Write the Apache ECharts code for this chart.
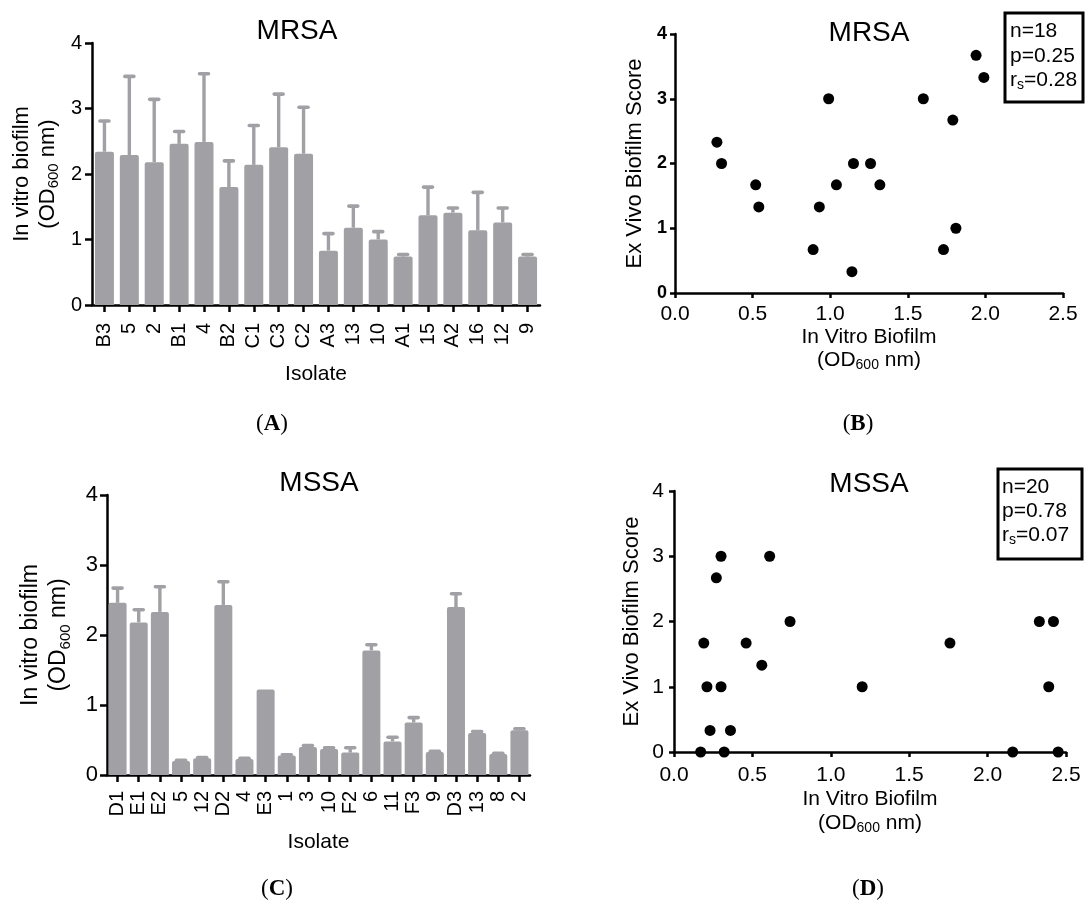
<!DOCTYPE html>
<html><head><meta charset="utf-8">
<script src="https://cdn.jsdelivr.net/npm/echarts@6/dist/echarts.min.js"></script>
<style>html,body{margin:0;padding:0;background:#fff}#c{width:1085px;height:909px}</style>
</head><body><div id="c"></div>
<script>
// ---- data ----
const mrsaIsolates = ['B3','5','2','B1','4','B2','C1','C3','C2','A3','13','10','A1','15','A2','16','12','9'];
const mrsaMeans  = [2.34,2.29,2.18,2.46,2.49,1.80,2.14,2.41,2.31,0.83,1.18,1.00,0.74,1.37,1.41,1.14,1.26,0.74];
const mrsaErrors = [0.47,1.20,0.96,0.19,1.04,0.40,0.60,0.81,0.71,0.26,0.33,0.12,0.03,0.43,0.07,0.58,0.22,0.03];

const mssaIsolates = ['D1','E1','E2','5','12','D2','4','E3','1','3','10','F2','6','11','F3','9','D3','13','8','2'];
const mssaMeans  = [2.46,2.18,2.33,0.20,0.24,2.43,0.23,1.22,0.28,0.40,0.37,0.32,1.78,0.48,0.75,0.33,2.40,0.60,0.30,0.64];
const mssaErrors = [0.21,0.18,0.36,0.01,0.01,0.33,0.01,0.00,0.01,0.02,0.02,0.07,0.08,0.06,0.07,0.01,0.19,0.02,0.01,0.02];

const mrsaInVitro = [0.27,0.30,0.52,0.54,0.99,0.89,0.93,1.04,1.15,1.14,1.26,1.32,1.60,1.79,1.94,1.99,1.81,1.73];
const mrsaExVivo  = [2.33,2.00,1.67,1.33,3.00,0.67,1.33,1.67,2.00,0.33,2.00,1.67,3.00,2.67,3.67,3.33,1.00,0.67];

const mssaInVitro = [0.17,0.19,0.21,0.23,0.27,0.30,0.30,0.32,0.36,0.46,0.56,0.61,0.74,1.20,1.76,2.33,2.42,2.39,2.16,2.45];
const mssaExVivo  = [0.00,1.67,1.00,0.33,2.67,3.00,1.00,0.00,0.33,1.67,1.33,3.00,2.00,1.00,1.67,2.00,2.00,1.00,0.00,0.00];

const yTicksBar = [0,1,2,3,4];
const xTicksScatter = ['0.0','0.5','1.0','1.5','2.0','2.5'];

const statsMRSA = ['n=18','p=0.25','0.28'];
const statsMSSA = ['n=20','p=0.78','0.07'];

// ---- style ----
const FONT = "'Liberation Sans', Arial, Helvetica, sans-serif";
const SERIF = "'Liberation Serif', 'Times New Roman', serif";
const BAR = '#a1a1a5';
const AXW = 2.5;

const subRich = (fs, lh, sfs) => ({
  n: {fontSize: fs, fontFamily: FONT, color: '#000', lineHeight: lh},
  s: {fontSize: sfs, fontFamily: FONT, color: '#000', lineHeight: 12, verticalAlign: 'bottom'}
});
const odName = (line1) => line1 + '\n{n|(OD}{s|600}{n| nm)}';

function axisBase(tickLen) {
  return {
    axisLine: {show: true, onZero: false, lineStyle: {color: '#000', width: AXW}},
    axisTick: {show: true, inside: false, length: tickLen, lineStyle: {color: '#000', width: AXW}},
    splitLine: {show: false}
  };
}

function errRenderer(params, api) {
  const i = api.value(0), m = api.value(1), e = api.value(2);
  if (!e) return null;
  const b = api.coord([i, m]);
  const t = api.coord([i, m + e]);
  return {type: 'group', children: [
    {type: 'line', shape: {x1: b[0], y1: b[1], x2: t[0], y2: t[1] + 1}, style: {stroke: BAR, lineWidth: 3.4}},
    {type: 'line', shape: {x1: t[0] - 4.5, y1: t[1], x2: t[0] + 4.5, y2: t[1]}, style: {stroke: BAR, lineWidth: 3.6, lineCap: 'round'}}
  ]};
}

const labelText = (letter) => ({
  text: '{p|(}{b|' + letter + '}{p|)}', align: 'center', verticalAlign: 'middle',
  rich: {p: {fontSize: 23, fontFamily: SERIF, fill: '#000'}, b: {fontSize: 23, fontFamily: SERIF, fontWeight: 'bold', fill: '#000'}}
});
const titleText = (t) => ({text: t, font: '28px ' + FONT, fill: '#000', align: 'center', verticalAlign: 'middle'});
const statsText = (s, lh) => ({
  text: s[0] + '\n' + s[1] + '\n{n|r}{s|s}{n|=' + s[2] + '}',
  font: '21px ' + FONT, fill: '#000', lineHeight: lh, align: 'left', verticalAlign: 'top',
  rich: {n: {fontSize: 21, fontFamily: FONT, lineHeight: lh, fill: '#000'},
         s: {fontSize: 14, fontFamily: FONT, lineHeight: 12, verticalAlign: 'bottom', fill: '#000'}}
});

const option = {
  animation: false,
  backgroundColor: '#fff',
  grid: [
    {left: 92, top: 43, width: 448, height: 262, containLabel: false, outerBoundsMode: 'none'},
    {left: 675, top: 34, width: 388, height: 259, containLabel: false, outerBoundsMode: 'none'},
    {left: 107, top: 495, width: 423, height: 280, containLabel: false, outerBoundsMode: 'none'},
    {left: 674, top: 491, width: 392, height: 261, containLabel: false, outerBoundsMode: 'none'}
  ],
  xAxis: [
    Object.assign(axisBase(7), {
      gridIndex: 0, type: 'category', data: mrsaIsolates,
      axisTick: {show: true, alignWithLabel: true, length: 7, lineStyle: {color: '#000', width: AXW}},
      axisLabel: {rotate: 90, interval: 0, margin: 18, fontSize: 20, fontFamily: FONT, color: '#000'},
      name: 'Isolate', nameLocation: 'middle', nameGap: 59,
      nameTextStyle: {fontSize: 21, fontFamily: FONT, color: '#000'}
    }),
    Object.assign(axisBase(5), {
      gridIndex: 1, type: 'value', min: 0, max: 2.5, interval: 0.5,
      axisLabel: {margin: 11, fontSize: 21, fontFamily: FONT, color: '#000',
        formatter: v => xTicksScatter[Math.round(v / 0.5)]},
      name: odName('In Vitro Biofilm'), nameLocation: 'middle', nameGap: 29,
      nameTextStyle: {fontSize: 21, fontFamily: FONT, color: '#000', lineHeight: 23, rich: subRich(21, 23, 14)}
    }),
    Object.assign(axisBase(7), {
      gridIndex: 2, type: 'category', data: mssaIsolates,
      axisTick: {show: true, alignWithLabel: true, length: 7, lineStyle: {color: '#000', width: AXW}},
      axisLabel: {rotate: 90, interval: 0, margin: 16, fontSize: 20, fontFamily: FONT, color: '#000'},
      name: 'Isolate', nameLocation: 'middle', nameGap: 57,
      nameTextStyle: {fontSize: 21, fontFamily: FONT, color: '#000'}
    }),
    Object.assign(axisBase(5), {
      gridIndex: 3, type: 'value', min: 0, max: 2.5, interval: 0.5,
      axisLabel: {margin: 13, fontSize: 21, fontFamily: FONT, color: '#000',
        formatter: v => xTicksScatter[Math.round(v / 0.5)]},
      name: odName('In Vitro Biofilm'), nameLocation: 'middle', nameGap: 33,
      nameTextStyle: {fontSize: 21, fontFamily: FONT, color: '#000', lineHeight: 24, rich: subRich(21, 24, 14)}
    })
  ],
  yAxis: [
    Object.assign(axisBase(7), {
      gridIndex: 0, type: 'value', min: 0, max: 4, interval: 1,
      axisLabel: {margin: 10, fontSize: 20, fontFamily: FONT, color: '#000', formatter: v => String(yTicksBar[v])},
      name: odName('In vitro biofilm'), nameLocation: 'middle', nameGap: 31, nameRotate: 90,
      nameTextStyle: {fontSize: 22, fontFamily: FONT, color: '#000', lineHeight: 26, rich: subRich(22, 26, 15)}
    }),
    Object.assign(axisBase(5), {
      gridIndex: 1, type: 'value', min: 0, max: 4, interval: 1,
      axisLabel: {margin: 8, fontSize: 18, fontWeight: 'bold', fontFamily: FONT, color: '#000'},
      name: 'Ex Vivo Biofilm Score', nameLocation: 'middle', nameGap: 28, nameRotate: 90,
      nameTextStyle: {fontSize: 22, fontFamily: FONT, color: '#000', lineHeight: 24}
    }),
    Object.assign(axisBase(7), {
      gridIndex: 2, type: 'value', min: 0, max: 4, interval: 1,
      axisLabel: {margin: 9, fontSize: 22, fontFamily: FONT, color: '#000', formatter: v => String(yTicksBar[v])},
      name: odName('In vitro biofilm'), nameLocation: 'middle', nameGap: 34, nameRotate: 90,
      nameTextStyle: {fontSize: 23, fontFamily: FONT, color: '#000', lineHeight: 28, rich: subRich(23, 28, 15)}
    }),
    Object.assign(axisBase(5), {
      gridIndex: 3, type: 'value', min: 0, max: 4, interval: 1,
      axisLabel: {margin: 10, fontSize: 21, fontFamily: FONT, color: '#000'},
      name: 'Ex Vivo Biofilm Score', nameLocation: 'middle', nameGap: 30, nameRotate: 90,
      nameTextStyle: {fontSize: 22, fontFamily: FONT, color: '#000', lineHeight: 24}
    })
  ],
  series: [
    {type: 'bar', xAxisIndex: 0, yAxisIndex: 0, data: mrsaMeans, barWidth: 19,
      itemStyle: {color: BAR, borderRadius: [2, 2, 0, 0]}, z: 3},
    {type: 'custom', xAxisIndex: 0, yAxisIndex: 0, renderItem: errRenderer, z: 2,
      data: mrsaMeans.map((m, i) => [i, m, mrsaErrors[i]])},
    {type: 'bar', xAxisIndex: 2, yAxisIndex: 2, data: mssaMeans, barWidth: 18,
      itemStyle: {color: BAR, borderRadius: [2, 2, 0, 0]}, z: 3},
    {type: 'custom', xAxisIndex: 2, yAxisIndex: 2, renderItem: errRenderer, z: 2,
      data: mssaMeans.map((m, i) => [i, m, mssaErrors[i]])},
    {type: 'scatter', xAxisIndex: 1, yAxisIndex: 1, symbolSize: 11, itemStyle: {color: '#000', opacity: 1},
      data: mrsaInVitro.map((x, i) => [x, mrsaExVivo[i]]), z: 5},
    {type: 'scatter', xAxisIndex: 3, yAxisIndex: 3, symbolSize: 11, itemStyle: {color: '#000', opacity: 1},
      data: mssaInVitro.map((x, i) => [x, mssaExVivo[i]]), z: 5}
  ],
  graphic: [
    {type: 'text', x: 297, y: 31, style: titleText('MRSA')},
    {type: 'text', x: 869, y: 33, style: titleText('MRSA')},
    {type: 'text', x: 319, y: 483, style: titleText('MSSA')},
    {type: 'text', x: 869, y: 484, style: titleText('MSSA')},

    {type: 'rect', shape: {x: 1005, y: 13, width: 78, height: 89}, style: {fill: '#fff', stroke: '#000', lineWidth: 3}, z: 10},
    {type: 'text', x: 1010, y: 19, z: 11, style: statsText(statsMRSA, 24.5)},

    {type: 'rect', shape: {x: 998, y: 469, width: 84, height: 90}, style: {fill: '#fff', stroke: '#000', lineWidth: 3}, z: 10},
    {type: 'text', x: 1002, y: 475, z: 11, style: statsText(statsMSSA, 24)},

    {type: 'text', x: 272, y: 424, style: labelText('A')},
    {type: 'text', x: 858, y: 424, style: labelText('B')},
    {type: 'text', x: 277, y: 889, style: labelText('C')},
    {type: 'text', x: 868, y: 889, style: labelText('D')}
  ]
};

const chart = echarts.init(document.getElementById('c'), null, {renderer: 'canvas'});
chart.setOption(option);
</script>
</body></html>
